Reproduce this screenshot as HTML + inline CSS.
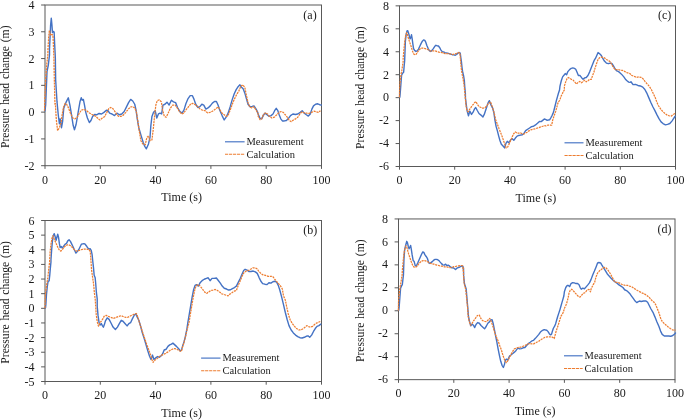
<!DOCTYPE html>
<html><head><meta charset="utf-8"><title>Pressure head change</title>
<style>
html,body{margin:0;padding:0;background:#fff;}
body{width:685px;height:420px;overflow:hidden;font-family:"Liberation Serif",serif;}
svg{display:block;will-change:transform;}
svg text{font-family:"Liberation Serif",serif;fill:#1a1a1a;}
</style></head>
<body>
<svg width="685" height="420" viewBox="0 0 685 420">
<rect x="0" y="0" width="685" height="420" fill="#ffffff"/>
<rect x="45.0" y="5.0" width="276.50" height="160.70" fill="none" stroke="#595959" stroke-width="1"/>
<line x1="41.1" y1="5.00" x2="45.0" y2="5.00" stroke="#595959" stroke-width="1"/>
<text x="34.50" y="9.00" text-anchor="end" font-size="12">4</text>
<line x1="41.1" y1="31.78" x2="45.0" y2="31.78" stroke="#595959" stroke-width="1"/>
<text x="34.50" y="35.78" text-anchor="end" font-size="12">3</text>
<line x1="41.1" y1="58.57" x2="45.0" y2="58.57" stroke="#595959" stroke-width="1"/>
<text x="34.50" y="62.57" text-anchor="end" font-size="12">2</text>
<line x1="41.1" y1="85.35" x2="45.0" y2="85.35" stroke="#595959" stroke-width="1"/>
<text x="34.50" y="89.35" text-anchor="end" font-size="12">1</text>
<line x1="41.1" y1="112.13" x2="45.0" y2="112.13" stroke="#595959" stroke-width="1"/>
<text x="34.50" y="116.13" text-anchor="end" font-size="12">0</text>
<line x1="41.1" y1="138.92" x2="45.0" y2="138.92" stroke="#595959" stroke-width="1"/>
<text x="34.50" y="142.92" text-anchor="end" font-size="12">-1</text>
<line x1="41.1" y1="165.70" x2="45.0" y2="165.70" stroke="#595959" stroke-width="1"/>
<text x="34.50" y="169.70" text-anchor="end" font-size="12">-2</text>
<line x1="45.00" y1="165.7" x2="45.00" y2="168.89999999999998" stroke="#595959" stroke-width="1"/>
<text x="45.00" y="183.70" text-anchor="middle" font-size="12">0</text>
<line x1="100.30" y1="165.7" x2="100.30" y2="168.89999999999998" stroke="#595959" stroke-width="1"/>
<text x="100.30" y="183.70" text-anchor="middle" font-size="12">20</text>
<line x1="155.60" y1="165.7" x2="155.60" y2="168.89999999999998" stroke="#595959" stroke-width="1"/>
<text x="155.60" y="183.70" text-anchor="middle" font-size="12">40</text>
<line x1="210.90" y1="165.7" x2="210.90" y2="168.89999999999998" stroke="#595959" stroke-width="1"/>
<text x="210.90" y="183.70" text-anchor="middle" font-size="12">60</text>
<line x1="266.20" y1="165.7" x2="266.20" y2="168.89999999999998" stroke="#595959" stroke-width="1"/>
<text x="266.20" y="183.70" text-anchor="middle" font-size="12">80</text>
<line x1="321.50" y1="165.7" x2="321.50" y2="168.89999999999998" stroke="#595959" stroke-width="1"/>
<text x="321.50" y="183.70" text-anchor="middle" font-size="12">100</text>
<text x="181.65" y="200.70" text-anchor="middle" font-size="12">Time (s)</text>
<text transform="translate(9.20,86.75) rotate(-90)" text-anchor="middle" font-size="11.65" word-spacing="0.9">Pressure head change (m)</text>
<text x="310.00" y="18.50" text-anchor="middle" font-size="12">(a)</text>
<polyline points="45.00,110.83 45.67,105.00 46.33,88.33 47.00,71.67 48.33,65.00 49.50,55.00 49.50,49.29 50.10,36.19 50.57,25.48 51.29,18.10 51.88,24.29 52.48,32.62 53.31,31.43 54.14,32.02 54.62,43.33 55.33,57.62 55.67,80.00 57.00,101.67 58.26,114.78 59.39,123.69 60.20,118.83 61.50,127.74 62.63,121.26 63.76,108.30 65.87,102.63 68.30,97.77 69.92,105.06 71.54,114.78 73.16,125.31 74.46,129.68 76.08,124.50 78.02,113.16 79.96,101.82 81.26,97.77 82.23,100.20 83.36,99.39 84.50,105.06 85.79,112.35 87.41,118.02 89.36,122.55 90.98,120.45 92.60,116.40 94.54,114.46 96.65,114.78 99.08,113.48 101.51,113.97 103.94,112.35 106.37,110.24 107.99,110.73 109.61,113.16 112.04,113.97 114.47,115.59 116.90,113.16 119.33,114.78 121.76,113.97 124.19,111.54 126.62,106.68 128.56,102.63 130.67,99.39 132.77,101.01 134.72,104.25 136.01,109.92 137.15,118.02 138.77,127.74 141.20,135.84 143.14,142.32 144.76,146.37 146.38,148.80 148.49,143.94 150.00,137.46 150.81,126.12 151.94,116.40 153.56,112.35 155.18,110.73 156.80,118.02 158.42,113.97 160.04,113.16 161.66,113.97 162.96,105.06 164.90,104.25 167.01,102.14 169.12,105.06 171.38,100.20 173.49,101.82 175.60,102.63 177.54,107.49 179.97,111.54 182.08,113.16 184.02,109.92 185.96,103.44 188.07,98.58 190.17,95.66 192.44,95.66 194.06,99.39 195.68,104.25 197.79,107.49 199.89,106.68 201.84,104.25 203.78,105.06 205.89,109.11 207.99,107.98 210.26,105.87 212.37,103.12 214.47,101.50 216.42,101.50 218.04,105.06 219.98,110.73 222.09,115.59 224.19,119.96 226.14,117.21 228.08,113.16 230.19,106.68 232.29,99.39 234.24,93.72 236.18,89.67 238.29,86.43 239.91,84.81 241.53,87.24 243.15,88.86 244.77,92.91 246.39,98.58 248.01,104.25 250.11,106.68 252.06,106.36 254.00,105.87 256.11,109.11 257.73,112.35 258.10,113.97 260.04,118.34 261.66,118.83 263.28,115.59 264.90,113.16 267.01,114.78 269.12,116.40 271.06,115.59 273.00,113.97 274.62,110.73 276.24,108.30 277.86,110.73 279.16,114.78 280.78,118.83 282.40,120.94 284.34,120.94 286.45,120.45 288.55,118.34 290.50,115.59 292.93,113.97 295.36,114.46 297.79,113.97 300.22,112.35 302.16,110.73 304.27,113.16 306.37,114.78 308.32,116.08 310.26,113.97 311.88,109.11 313.50,105.87 315.61,104.25 317.71,103.76 319.66,104.74 321.28,105.06" fill="none" stroke="#4472c4" stroke-width="1.4" stroke-linejoin="round" stroke-linecap="round"/>
<polyline points="44.50,110.83 45.00,96.67 45.67,80.00 46.67,65.00 47.83,55.00 47.95,49.29 48.67,37.38 49.38,30.24 50.33,33.81 51.29,35.60 52.12,34.40 52.95,35.60 53.43,45.71 53.90,57.62 54.33,80.00 55.00,105.00 55.34,103.44 56.31,119.64 57.61,130.65 59.39,127.74 61.01,122.88 62.14,114.78 63.44,107.49 65.06,103.44 66.68,104.25 68.62,108.30 70.73,113.97 72.84,118.02 75.10,118.83 77.21,117.21 79.32,113.16 81.26,110.24 83.69,109.43 86.12,110.24 88.55,112.35 90.98,113.97 93.41,115.10 95.84,116.40 98.27,118.83 99.89,119.96 102.32,118.02 104.75,116.40 106.85,112.35 108.80,108.62 110.74,107.49 112.85,108.62 114.95,111.54 116.90,114.78 118.84,116.40 120.95,116.40 123.38,115.10 125.81,112.35 128.24,109.11 130.67,107.00 132.77,106.68 134.72,107.98 136.34,111.54 137.63,119.64 139.25,130.98 140.87,140.70 142.82,143.94 145.25,144.75 146.87,137.46 148.49,135.84 150.00,140.70 151.94,139.89 153.24,129.36 154.54,116.40 155.83,105.06 157.29,100.52 159.40,99.88 161.34,101.82 162.64,109.92 164.26,116.40 166.20,117.21 168.14,113.16 170.25,108.30 172.68,105.06 175.11,105.06 177.22,107.98 179.48,111.54 181.59,113.97 183.70,113.16 185.96,109.92 188.55,106.68 190.82,103.76 192.93,103.44 195.36,104.74 197.79,106.68 200.22,109.11 202.65,110.24 205.08,110.73 207.51,112.84 209.94,112.35 212.37,111.22 214.80,109.60 216.74,107.98 218.36,107.00 219.98,109.92 222.09,113.16 224.19,114.78 226.14,116.40 228.08,115.59 230.19,109.92 232.29,104.25 234.24,99.39 236.67,94.53 238.77,91.29 240.72,86.43 242.66,84.81 244.77,87.24 246.39,95.34 248.01,102.63 249.63,106.68 251.73,107.98 253.68,106.68 256.11,109.92 258.21,113.97 258.21,116.40 260.04,119.64 261.66,118.83 263.28,114.78 265.39,112.84 267.50,113.97 269.44,116.40 271.87,118.02 274.30,117.21 276.73,114.78 279.16,112.35 281.10,111.54 283.21,112.35 285.32,114.78 287.26,117.21 289.20,120.45 291.31,121.58 293.41,119.96 295.68,118.83 297.79,117.21 299.89,113.97 301.84,111.86 304.27,112.84 306.70,113.16 309.13,113.48 311.56,112.35 313.99,111.22 316.42,111.86 318.36,112.35 320.47,110.73" fill="none" stroke="#ed7d31" stroke-width="1.25" stroke-dasharray="2.1 0.8" stroke-linejoin="round"/>
<line x1="225.0" y1="141.8" x2="244.6" y2="141.8" stroke="#4472c4" stroke-width="1.15"/>
<line x1="225.0" y1="154.3" x2="244.6" y2="154.3" stroke="#ed7d31" stroke-width="1.1" stroke-dasharray="3.2 0.8"/>
<text x="246.50" y="144.80" font-size="10.5">Measurement</text>
<text x="246.50" y="157.50" font-size="10.5">Calculation</text>
<rect x="45.0" y="220.5" width="276.50" height="161.00" fill="none" stroke="#595959" stroke-width="1"/>
<line x1="41.1" y1="220.50" x2="45.0" y2="220.50" stroke="#595959" stroke-width="1"/>
<text x="34.50" y="224.50" text-anchor="end" font-size="12">6</text>
<line x1="41.1" y1="235.14" x2="45.0" y2="235.14" stroke="#595959" stroke-width="1"/>
<text x="34.50" y="239.14" text-anchor="end" font-size="12">5</text>
<line x1="41.1" y1="249.77" x2="45.0" y2="249.77" stroke="#595959" stroke-width="1"/>
<text x="34.50" y="253.77" text-anchor="end" font-size="12">4</text>
<line x1="41.1" y1="264.41" x2="45.0" y2="264.41" stroke="#595959" stroke-width="1"/>
<text x="34.50" y="268.41" text-anchor="end" font-size="12">3</text>
<line x1="41.1" y1="279.05" x2="45.0" y2="279.05" stroke="#595959" stroke-width="1"/>
<text x="34.50" y="283.05" text-anchor="end" font-size="12">2</text>
<line x1="41.1" y1="293.68" x2="45.0" y2="293.68" stroke="#595959" stroke-width="1"/>
<text x="34.50" y="297.68" text-anchor="end" font-size="12">1</text>
<line x1="41.1" y1="308.32" x2="45.0" y2="308.32" stroke="#595959" stroke-width="1"/>
<text x="34.50" y="312.32" text-anchor="end" font-size="12">0</text>
<line x1="41.1" y1="322.95" x2="45.0" y2="322.95" stroke="#595959" stroke-width="1"/>
<text x="34.50" y="326.95" text-anchor="end" font-size="12">-1</text>
<line x1="41.1" y1="337.59" x2="45.0" y2="337.59" stroke="#595959" stroke-width="1"/>
<text x="34.50" y="341.59" text-anchor="end" font-size="12">-2</text>
<line x1="41.1" y1="352.23" x2="45.0" y2="352.23" stroke="#595959" stroke-width="1"/>
<text x="34.50" y="356.23" text-anchor="end" font-size="12">-3</text>
<line x1="41.1" y1="366.86" x2="45.0" y2="366.86" stroke="#595959" stroke-width="1"/>
<text x="34.50" y="370.86" text-anchor="end" font-size="12">-4</text>
<line x1="41.1" y1="381.50" x2="45.0" y2="381.50" stroke="#595959" stroke-width="1"/>
<text x="34.50" y="385.50" text-anchor="end" font-size="12">-5</text>
<line x1="45.00" y1="381.5" x2="45.00" y2="384.7" stroke="#595959" stroke-width="1"/>
<text x="45.00" y="398.90" text-anchor="middle" font-size="12">0</text>
<line x1="100.30" y1="381.5" x2="100.30" y2="384.7" stroke="#595959" stroke-width="1"/>
<text x="100.30" y="398.90" text-anchor="middle" font-size="12">20</text>
<line x1="155.60" y1="381.5" x2="155.60" y2="384.7" stroke="#595959" stroke-width="1"/>
<text x="155.60" y="398.90" text-anchor="middle" font-size="12">40</text>
<line x1="210.90" y1="381.5" x2="210.90" y2="384.7" stroke="#595959" stroke-width="1"/>
<text x="210.90" y="398.90" text-anchor="middle" font-size="12">60</text>
<line x1="266.20" y1="381.5" x2="266.20" y2="384.7" stroke="#595959" stroke-width="1"/>
<text x="266.20" y="398.90" text-anchor="middle" font-size="12">80</text>
<line x1="321.50" y1="381.5" x2="321.50" y2="384.7" stroke="#595959" stroke-width="1"/>
<text x="321.50" y="398.90" text-anchor="middle" font-size="12">100</text>
<text x="181.65" y="416.50" text-anchor="middle" font-size="12">Time (s)</text>
<text transform="translate(9.20,302.40) rotate(-90)" text-anchor="middle" font-size="11.65" word-spacing="0.9">Pressure head change (m)</text>
<text x="310.30" y="234.00" text-anchor="middle" font-size="12">(b)</text>
<polyline points="45.23,308.24 45.54,307.72 45.84,304.99 46.46,294.75 47.28,286.56 48.09,281.45 49.12,280.94 49.73,275.31 50.35,268.14 50.96,262.00 50.96,259.78 51.68,249.54 52.39,241.35 53.21,235.72 54.24,233.68 55.05,236.24 56.08,240.33 56.90,237.26 57.72,234.19 58.53,237.26 59.35,243.40 60.17,247.49 61.20,246.47 62.22,248.01 63.45,246.47 64.98,244.42 66.52,243.40 67.75,240.84 69.08,239.82 70.41,241.35 71.64,243.91 73.17,246.98 74.71,250.56 75.93,253.12 77.27,251.59 78.80,249.54 80.03,246.98 81.36,244.22 82.69,243.91 83.92,243.60 85.15,244.22 86.48,245.96 87.81,248.01 89.04,249.03 90.26,248.72 91.29,250.56 92.11,254.66 92.72,260.80 93.54,268.14 94.15,275.31 95.18,277.86 95.79,284.52 96.41,292.71 97.22,298.85 97.22,306.19 98.04,315.40 99.07,322.56 100.09,325.12 101.32,323.59 102.34,325.64 103.37,327.17 104.39,324.61 105.46,320.79 107.21,317.87 109.11,319.33 111.01,322.98 113.05,327.07 115.39,329.55 117.43,327.07 119.33,323.71 121.23,320.35 122.98,321.23 125.17,323.71 127.07,325.90 128.82,323.71 130.57,322.69 132.47,318.60 134.36,314.95 135.82,313.93 137.28,317.14 139.04,320.79 140.50,325.90 142.25,332.47 144.15,338.31 146.04,344.88 147.80,350.72 149.55,356.26 151.01,359.47 152.47,355.09 153.93,359.47 155.82,357.72 157.72,356.55 159.47,357.28 161.23,355.82 162.69,353.64 164.15,349.99 166.04,349.26 167.94,346.34 169.69,344.88 171.45,344.15 172.91,343.12 174.80,344.88 176.70,346.63 178.45,348.53 180.20,350.72 181.37,350.42 182.54,346.34 184.00,341.96 185.46,336.12 186.92,328.82 187.75,323.02 189.21,314.55 190.67,305.80 192.13,297.04 193.59,289.74 195.05,285.36 196.51,284.63 198.41,286.09 200.31,282.44 202.06,280.69 204.25,279.23 206.44,278.35 208.19,277.77 210.09,280.69 211.99,278.35 214.03,278.35 216.36,278.06 218.12,280.25 220.31,283.17 222.20,286.09 224.25,288.28 226.58,289.01 228.63,290.03 230.53,289.74 232.42,288.57 234.47,287.55 236.36,286.09 238.26,282.44 240.31,278.35 242.20,273.68 243.66,270.47 245.12,269.30 247.02,270.03 248.77,271.49 250.96,271.49 253.15,271.05 255.34,271.93 257.24,273.39 258.99,277.33 260.74,280.98 262.64,283.61 264.83,284.19 267.02,284.63 268.92,282.73 270.96,283.17 272.86,281.71 275.05,281.27 276.80,282.44 278.26,285.36 279.72,289.74 281.68,297.14 283.43,304.44 285.33,312.47 287.23,319.77 288.98,325.61 291.17,329.99 293.36,332.91 295.55,335.09 297.74,336.55 299.93,337.72 302.12,338.01 304.31,337.28 306.20,336.26 307.96,335.82 309.71,337.28 311.61,335.09 313.50,331.45 315.26,328.53 317.01,326.34 318.91,325.61 320.80,324.15" fill="none" stroke="#4472c4" stroke-width="1.4" stroke-linejoin="round" stroke-linecap="round"/>
<polyline points="45.02,308.24 45.13,304.99 45.33,296.80 45.84,290.66 46.87,283.49 47.89,277.35 48.61,270.19 49.63,262.00 49.63,260.80 50.14,251.59 50.96,244.42 51.98,238.28 53.01,235.72 53.72,237.26 54.44,239.82 55.46,241.86 56.79,244.94 58.33,248.52 59.56,250.36 60.89,251.08 62.22,249.75 63.65,247.70 65.29,245.96 67.03,244.94 68.56,244.73 70.10,245.45 71.64,246.68 73.17,248.52 74.71,250.05 76.24,251.08 77.78,250.77 79.31,250.36 80.85,249.75 82.69,249.34 84.43,249.03 86.17,249.03 87.81,249.34 89.24,249.75 90.26,251.59 90.67,256.71 91.08,262.85 91.59,270.19 92.62,277.35 93.64,284.52 94.36,292.71 95.18,298.85 95.69,306.19 96.20,314.38 97.22,321.54 98.45,326.15 99.78,323.08 101.32,321.03 102.85,318.98 104.00,316.41 106.19,315.39 108.38,316.41 111.01,317.43 113.49,318.31 115.97,317.43 118.60,316.41 121.23,315.68 123.71,316.85 125.90,317.43 128.09,317.14 130.28,315.97 132.47,314.95 134.66,313.93 136.41,313.49 137.87,317.14 139.33,322.25 141.23,328.09 143.12,333.93 144.88,339.04 146.63,344.15 148.53,349.26 150.42,354.36 151.88,359.47 153.05,362.39 154.80,360.20 156.85,358.74 159.18,356.85 161.23,355.39 163.56,354.36 165.61,353.34 167.94,351.88 169.99,350.42 172.32,349.26 174.36,348.53 176.26,348.96 178.16,349.99 179.91,351.01 181.37,351.45 182.54,347.07 184.00,342.69 185.46,336.85 186.92,330.28 188.92,323.02 190.09,316.01 191.55,307.26 193.01,298.50 194.47,291.20 195.93,286.09 197.68,284.63 199.43,285.36 201.33,287.55 203.23,290.03 204.98,292.36 206.73,293.39 208.63,291.93 210.82,290.47 213.01,290.03 215.20,289.45 217.39,290.47 219.58,291.93 221.77,293.82 223.96,294.41 226.15,295.28 228.04,295.87 229.80,294.12 231.99,292.66 234.18,291.20 236.36,290.47 238.26,285.36 240.31,280.69 242.20,275.87 244.10,272.51 246.15,271.05 248.48,270.47 250.53,269.30 252.86,267.84 254.91,267.84 256.80,268.57 258.70,271.05 260.74,273.39 263.08,274.85 265.56,275.43 268.04,276.31 270.67,276.31 272.86,276.60 274.76,279.23 276.80,281.71 278.70,283.90 280.60,286.09 282.35,289.01 283.43,295.68 285.33,300.06 286.79,307.36 288.25,313.93 290.15,319.77 292.19,323.42 294.53,326.34 296.57,328.53 298.91,329.99 300.95,329.99 303.28,328.53 305.33,327.07 306.79,325.61 308.69,326.63 310.58,327.07 312.63,326.34 314.53,324.58 316.42,323.12 318.47,322.25 320.80,321.23" fill="none" stroke="#ed7d31" stroke-width="1.25" stroke-dasharray="2.1 0.8" stroke-linejoin="round"/>
<line x1="201.1" y1="358.1" x2="220.5" y2="358.1" stroke="#4472c4" stroke-width="1.15"/>
<line x1="201.1" y1="370.8" x2="220.5" y2="370.8" stroke="#ed7d31" stroke-width="1.1" stroke-dasharray="3.2 0.8"/>
<text x="222.40" y="361.10" font-size="10.5">Measurement</text>
<text x="222.40" y="374.00" font-size="10.5">Calculation</text>
<rect x="399.5" y="5.85" width="276.00" height="160.65" fill="none" stroke="#595959" stroke-width="1"/>
<line x1="395.6" y1="5.85" x2="399.5" y2="5.85" stroke="#595959" stroke-width="1"/>
<text x="389.00" y="9.65" text-anchor="end" font-size="12">8</text>
<line x1="395.6" y1="28.80" x2="399.5" y2="28.80" stroke="#595959" stroke-width="1"/>
<text x="389.00" y="32.60" text-anchor="end" font-size="12">6</text>
<line x1="395.6" y1="51.75" x2="399.5" y2="51.75" stroke="#595959" stroke-width="1"/>
<text x="389.00" y="55.55" text-anchor="end" font-size="12">4</text>
<line x1="395.6" y1="74.70" x2="399.5" y2="74.70" stroke="#595959" stroke-width="1"/>
<text x="389.00" y="78.50" text-anchor="end" font-size="12">2</text>
<line x1="395.6" y1="97.65" x2="399.5" y2="97.65" stroke="#595959" stroke-width="1"/>
<text x="389.00" y="101.45" text-anchor="end" font-size="12">0</text>
<line x1="395.6" y1="120.60" x2="399.5" y2="120.60" stroke="#595959" stroke-width="1"/>
<text x="389.00" y="124.40" text-anchor="end" font-size="12">-2</text>
<line x1="395.6" y1="143.55" x2="399.5" y2="143.55" stroke="#595959" stroke-width="1"/>
<text x="389.00" y="147.35" text-anchor="end" font-size="12">-4</text>
<line x1="395.6" y1="166.50" x2="399.5" y2="166.50" stroke="#595959" stroke-width="1"/>
<text x="389.00" y="170.30" text-anchor="end" font-size="12">-6</text>
<line x1="399.50" y1="166.5" x2="399.50" y2="169.7" stroke="#595959" stroke-width="1"/>
<text x="399.50" y="184.40" text-anchor="middle" font-size="12">0</text>
<line x1="454.70" y1="166.5" x2="454.70" y2="169.7" stroke="#595959" stroke-width="1"/>
<text x="454.70" y="184.40" text-anchor="middle" font-size="12">20</text>
<line x1="509.90" y1="166.5" x2="509.90" y2="169.7" stroke="#595959" stroke-width="1"/>
<text x="509.90" y="184.40" text-anchor="middle" font-size="12">40</text>
<line x1="565.10" y1="166.5" x2="565.10" y2="169.7" stroke="#595959" stroke-width="1"/>
<text x="565.10" y="184.40" text-anchor="middle" font-size="12">60</text>
<line x1="620.30" y1="166.5" x2="620.30" y2="169.7" stroke="#595959" stroke-width="1"/>
<text x="620.30" y="184.40" text-anchor="middle" font-size="12">80</text>
<line x1="675.50" y1="166.5" x2="675.50" y2="169.7" stroke="#595959" stroke-width="1"/>
<text x="675.50" y="184.40" text-anchor="middle" font-size="12">100</text>
<text x="535.90" y="201.50" text-anchor="middle" font-size="12">Time (s)</text>
<text transform="translate(364.40,87.58) rotate(-90)" text-anchor="middle" font-size="11.65" word-spacing="0.9">Pressure head change (m)</text>
<text x="664.60" y="19.35" text-anchor="middle" font-size="12">(c)</text>
<polyline points="399.54,97.31 399.84,97.31 400.25,92.71 400.87,84.52 401.58,75.31 402.61,73.26 403.63,72.24 404.14,66.09 404.55,62.00 404.65,60.85 405.37,41.40 406.19,34.24 407.01,30.96 407.72,30.65 408.44,32.70 409.26,35.77 410.08,38.84 410.90,37.31 411.51,34.75 412.12,38.33 412.84,43.96 413.56,48.56 414.58,50.41 415.91,51.43 417.24,50.82 418.47,49.08 419.70,46.52 421.03,43.65 422.36,41.20 423.59,39.86 424.82,40.38 425.84,42.42 426.86,45.49 428.19,48.56 429.53,50.82 430.75,51.43 431.98,50.41 433.31,48.56 434.64,46.52 435.87,45.29 437.10,45.70 438.43,46.01 439.76,47.75 440.99,50.10 442.22,51.64 443.55,51.84 444.88,52.66 446.11,52.86 447.64,53.17 449.18,53.68 450.71,54.19 452.25,54.71 453.78,54.91 455.32,55.22 456.55,54.50 457.88,53.17 459.21,52.45 460.23,53.17 460.85,57.78 461.46,62.00 461.97,67.12 462.69,72.24 463.51,75.31 464.33,80.42 464.73,86.56 465.35,92.71 465.46,98.00 466.25,104.57 467.17,111.14 468.48,115.74 469.80,111.14 471.51,114.43 473.08,112.19 474.40,109.17 475.71,107.46 477.29,110.48 479.00,113.51 480.97,115.08 482.94,117.05 484.25,114.43 485.57,110.48 486.88,106.54 488.19,102.60 489.38,100.63 490.82,104.57 492.53,107.86 493.84,112.45 494.76,119.02 496.08,126.25 497.39,130.85 498.71,136.11 500.02,140.71 501.34,144.25 503.04,145.96 504.62,147.93 505.93,143.34 507.25,141.36 508.83,142.68 510.53,140.05 512.24,138.74 513.82,140.31 515.40,138.08 517.10,136.11 518.81,135.45 520.65,135.06 522.36,134.79 524.07,133.22 525.65,130.59 527.62,129.27 529.59,127.96 531.56,126.65 533.53,126.25 535.50,124.94 537.47,123.23 539.44,121.39 541.15,121.65 542.73,120.34 544.30,119.02 546.01,119.68 547.18,120.40 548.50,119.96 549.56,119.78 550.70,118.02 552.03,115.55 553.08,113.35 553.96,110.26 554.85,106.74 555.73,103.22 556.61,99.69 557.49,96.61 558.37,93.52 559.52,90.00 559.97,86.05 561.29,80.79 562.60,76.85 563.92,75.27 565.23,73.57 566.54,74.88 567.86,71.60 569.57,69.62 571.27,68.31 572.85,67.92 574.43,68.31 575.74,69.23 577.06,72.25 578.37,75.54 580.08,75.54 581.79,77.90 583.10,79.22 584.68,77.90 586.25,77.51 587.96,75.54 589.67,71.86 591.25,67.65 592.83,63.71 594.14,60.43 595.45,58.45 596.77,55.56 598.08,52.54 599.40,53.46 601.10,55.17 602.81,58.45 604.39,61.08 606.36,63.05 608.33,63.71 610.30,63.05 612.01,63.71 613.59,66.08 615.16,68.97 616.87,70.94 618.58,71.60 620.42,73.17 622.13,74.88 623.84,76.85 625.41,79.22 626.99,80.79 628.70,82.11 630.01,82.37 630.95,81.75 633.05,84.67 635.48,84.34 637.91,85.48 640.34,85.96 642.77,87.10 644.87,89.53 646.81,93.09 648.76,97.62 650.86,102.48 652.97,107.01 654.91,110.58 656.85,114.62 658.96,118.67 661.06,121.91 663.01,123.53 665.43,124.82 667.54,124.34 669.81,123.53 671.91,121.10 673.53,118.67 675.15,116.24" fill="none" stroke="#4472c4" stroke-width="1.4" stroke-linejoin="round" stroke-linecap="round"/>
<polyline points="399.33,97.31 399.43,96.80 399.64,88.61 400.25,80.42 401.07,74.28 401.89,70.19 402.61,65.07 403.12,62.00 403.12,58.80 403.94,49.59 404.76,41.40 405.68,35.26 406.70,32.70 407.42,34.24 408.24,37.82 409.26,40.89 410.28,43.96 411.31,47.03 412.33,50.61 413.56,53.68 414.89,54.91 416.22,54.19 417.45,52.15 418.98,50.10 420.52,48.56 422.05,48.05 423.59,48.05 425.12,48.56 426.66,49.08 428.19,49.79 429.73,50.61 431.27,51.12 432.80,50.82 434.34,50.82 435.87,51.12 437.41,51.64 438.94,52.15 440.48,52.45 442.01,52.66 443.55,53.17 445.08,53.68 446.62,53.68 448.15,53.68 449.69,53.89 451.22,54.19 452.76,54.50 454.29,54.19 455.83,53.68 457.37,53.17 458.90,52.66 459.92,53.17 460.44,58.80 460.64,62.00 461.25,68.14 461.97,73.26 462.99,78.38 464.02,84.52 464.73,91.68 465.35,97.82 465.35,98.00 465.86,104.57 466.78,109.83 468.09,111.80 469.80,109.17 471.51,106.54 473.08,104.57 474.66,102.60 475.97,101.68 477.29,104.31 479.00,106.54 480.97,107.46 482.94,108.25 484.65,107.86 486.22,106.54 487.80,104.31 489.51,102.60 490.69,101.94 491.74,105.23 493.06,109.17 494.37,113.77 495.68,119.68 497.39,124.28 499.10,128.88 500.68,132.82 502.25,136.76 503.57,140.71 504.88,144.65 506.20,147.93 507.51,147.28 508.83,144.65 510.53,140.71 512.24,136.76 513.82,133.48 515.40,131.90 517.10,133.22 518.81,133.22 520.39,132.82 521.97,133.74 523.67,134.14 525.38,133.22 527.22,132.17 528.93,130.85 530.90,129.80 532.87,129.27 534.84,128.88 536.81,128.22 538.79,127.57 540.76,126.91 542.73,126.25 544.30,125.60 546.01,125.86 547.62,125.24 549.38,125.24 551.59,125.24 552.20,122.60 552.73,119.96 553.61,117.31 554.67,114.23 555.73,111.15 556.61,108.06 557.49,104.54 558.37,101.89 559.52,100.57 560.40,98.37 561.28,95.73 562.42,93.52 563.48,91.32 564.36,90.00 564.36,86.05 565.62,82.11 566.94,78.82 568.25,77.51 569.96,78.43 571.54,79.48 573.11,80.14 574.82,82.11 576.53,84.08 578.11,82.37 579.68,81.45 581.39,82.76 583.10,81.45 584.68,80.14 586.25,81.84 587.96,80.79 589.67,79.22 591.25,79.48 592.56,75.54 593.88,72.25 595.19,67.65 596.50,63.71 597.82,60.03 599.40,57.80 601.10,57.14 602.81,57.40 604.39,57.80 606.36,59.51 608.33,60.43 610.30,61.74 612.01,65.02 613.59,67.65 615.16,69.62 616.87,69.62 618.58,69.62 620.42,70.28 622.13,70.28 623.84,70.94 625.41,71.86 626.99,72.65 628.70,73.17 630.01,73.57 631.43,75.28 633.86,76.25 636.29,77.38 638.72,76.90 641.15,77.38 643.25,79.00 645.19,81.75 647.14,83.86 649.24,86.29 651.35,89.53 653.29,93.57 655.23,97.62 656.85,102.16 658.47,105.72 660.58,108.96 662.68,111.38 664.95,113.49 667.05,115.11 669.16,115.76 671.10,116.24 673.04,114.62 675.15,113.49" fill="none" stroke="#ed7d31" stroke-width="1.25" stroke-dasharray="2.1 0.8" stroke-linejoin="round"/>
<line x1="564.5" y1="142.8" x2="583.5" y2="142.8" stroke="#4472c4" stroke-width="1.15"/>
<line x1="564.5" y1="155.5" x2="583.5" y2="155.5" stroke="#ed7d31" stroke-width="1.1" stroke-dasharray="3.2 0.8"/>
<text x="585.40" y="145.80" font-size="10.5">Measurement</text>
<text x="585.40" y="158.70" font-size="10.5">Calculation</text>
<rect x="398.5" y="218.95" width="276.50" height="160.70" fill="none" stroke="#595959" stroke-width="1"/>
<line x1="394.6" y1="218.95" x2="398.5" y2="218.95" stroke="#595959" stroke-width="1"/>
<text x="388.00" y="222.55" text-anchor="end" font-size="12">8</text>
<line x1="394.6" y1="241.91" x2="398.5" y2="241.91" stroke="#595959" stroke-width="1"/>
<text x="388.00" y="245.51" text-anchor="end" font-size="12">6</text>
<line x1="394.6" y1="264.86" x2="398.5" y2="264.86" stroke="#595959" stroke-width="1"/>
<text x="388.00" y="268.46" text-anchor="end" font-size="12">4</text>
<line x1="394.6" y1="287.82" x2="398.5" y2="287.82" stroke="#595959" stroke-width="1"/>
<text x="388.00" y="291.42" text-anchor="end" font-size="12">2</text>
<line x1="394.6" y1="310.78" x2="398.5" y2="310.78" stroke="#595959" stroke-width="1"/>
<text x="388.00" y="314.38" text-anchor="end" font-size="12">0</text>
<line x1="394.6" y1="333.74" x2="398.5" y2="333.74" stroke="#595959" stroke-width="1"/>
<text x="388.00" y="337.34" text-anchor="end" font-size="12">-2</text>
<line x1="394.6" y1="356.69" x2="398.5" y2="356.69" stroke="#595959" stroke-width="1"/>
<text x="388.00" y="360.29" text-anchor="end" font-size="12">-4</text>
<line x1="394.6" y1="379.65" x2="398.5" y2="379.65" stroke="#595959" stroke-width="1"/>
<text x="388.00" y="383.25" text-anchor="end" font-size="12">-6</text>
<line x1="398.50" y1="379.65" x2="398.50" y2="382.84999999999997" stroke="#595959" stroke-width="1"/>
<text x="398.50" y="397.45" text-anchor="middle" font-size="12">0</text>
<line x1="453.80" y1="379.65" x2="453.80" y2="382.84999999999997" stroke="#595959" stroke-width="1"/>
<text x="453.80" y="397.45" text-anchor="middle" font-size="12">20</text>
<line x1="509.10" y1="379.65" x2="509.10" y2="382.84999999999997" stroke="#595959" stroke-width="1"/>
<text x="509.10" y="397.45" text-anchor="middle" font-size="12">40</text>
<line x1="564.40" y1="379.65" x2="564.40" y2="382.84999999999997" stroke="#595959" stroke-width="1"/>
<text x="564.40" y="397.45" text-anchor="middle" font-size="12">60</text>
<line x1="619.70" y1="379.65" x2="619.70" y2="382.84999999999997" stroke="#595959" stroke-width="1"/>
<text x="619.70" y="397.45" text-anchor="middle" font-size="12">80</text>
<line x1="675.00" y1="379.65" x2="675.00" y2="382.84999999999997" stroke="#595959" stroke-width="1"/>
<text x="675.00" y="397.45" text-anchor="middle" font-size="12">100</text>
<text x="535.15" y="414.65" text-anchor="middle" font-size="12">Time (s)</text>
<text transform="translate(363.80,300.70) rotate(-90)" text-anchor="middle" font-size="11.65" word-spacing="0.9">Pressure head change (m)</text>
<text x="664.50" y="233.25" text-anchor="middle" font-size="12">(d)</text>
<polyline points="398.54,310.31 398.84,310.31 399.25,305.71 399.87,297.52 400.58,288.31 401.61,285.75 402.32,284.72 402.94,279.09 403.45,275.00 403.96,259.54 404.68,249.31 405.70,245.21 406.72,241.32 407.44,242.65 408.26,246.24 409.08,248.79 409.90,247.26 410.61,245.42 411.33,249.31 412.15,254.94 413.17,260.56 414.20,261.59 415.22,265.68 416.45,265.68 417.68,263.12 419.01,260.05 420.34,256.98 421.56,254.22 422.79,251.86 423.82,252.38 424.84,254.63 426.17,256.47 427.50,258.72 428.73,262.82 429.96,263.43 431.29,262.41 432.62,261.38 433.85,260.05 435.08,259.34 436.41,259.34 437.74,259.75 438.97,260.56 440.19,262.10 441.52,263.64 442.85,264.86 444.29,265.17 445.62,264.15 446.95,265.68 448.18,265.17 449.41,265.89 450.74,267.22 452.07,267.93 453.29,267.73 454.52,268.75 455.55,269.57 456.88,268.24 458.21,267.53 459.44,267.22 460.66,266.50 461.99,265.89 463.02,266.50 463.53,270.80 463.53,268.00 463.67,275.88 464.46,283.77 466.17,289.02 466.83,296.91 467.61,306.11 468.40,315.31 468.40,316.00 469.45,321.26 470.77,325.86 472.08,324.15 473.40,325.20 474.71,327.56 476.02,324.54 477.60,322.57 479.31,323.23 481.02,325.46 482.86,327.17 484.57,328.88 486.27,326.25 487.85,323.23 489.43,321.91 490.74,319.94 492.06,319.68 493.11,323.23 494.16,328.48 495.47,335.05 496.79,341.62 498.10,348.85 499.42,355.42 500.73,361.34 502.04,365.28 503.36,367.51 504.41,364.62 505.46,360.02 506.51,359.10 507.83,360.02 509.53,356.08 511.24,354.76 512.82,353.45 514.40,352.14 516.10,350.43 517.81,348.19 519.65,348.85 521.36,348.59 523.07,347.80 524.91,347.54 526.62,345.57 528.32,343.60 530.16,342.28 531.87,340.97 533.58,340.31 535.42,338.34 537.13,336.37 538.84,334.40 540.41,332.03 541.99,330.72 543.70,329.80 545.01,329.80 546.75,330.29 548.08,331.62 549.31,333.67 550.53,334.89 551.56,334.08 552.38,331.31 553.40,328.24 554.63,326.19 555.65,323.64 556.68,320.05 557.70,316.47 558.72,313.40 559.75,310.33 560.77,306.75 561.79,303.16 562.82,299.58 563.84,296.00 564.45,291.45 565.77,287.51 567.08,285.54 568.40,285.54 569.71,286.59 571.02,283.57 572.60,282.65 574.31,282.91 576.02,283.57 577.60,283.57 578.91,284.49 580.22,287.51 581.27,289.22 582.85,288.17 584.43,288.82 586.14,286.85 587.84,284.88 589.42,282.91 591.00,279.62 592.71,275.02 594.42,271.08 595.99,267.14 597.57,262.94 598.88,262.54 600.59,262.94 601.91,265.17 603.61,267.80 605.19,270.43 607.16,273.71 609.13,276.08 611.10,278.31 613.07,280.28 615.05,281.86 617.02,283.17 618.99,284.88 620.96,286.19 622.93,287.51 624.64,289.74 626.48,290.53 628.19,292.11 630.16,294.08 631.73,296.31 633.44,298.68 635.15,301.04 636.73,302.62 638.30,301.57 640.01,301.04 641.15,301.48 643.58,300.99 646.00,300.99 647.62,302.29 649.24,305.53 650.86,308.76 652.97,312.33 654.91,316.86 656.85,321.72 658.96,326.58 660.58,331.11 662.20,334.35 664.30,335.97 666.57,335.97 668.67,335.97 670.78,336.29 672.72,335.48 674.34,334.35 675.47,333.05" fill="none" stroke="#4472c4" stroke-width="1.4" stroke-linejoin="round" stroke-linecap="round"/>
<polyline points="398.23,310.31 398.33,310.31 398.54,301.61 399.25,293.42 400.07,287.28 400.89,282.68 401.61,278.07 402.12,275.00 402.32,270.80 403.14,261.59 403.96,253.40 404.98,248.28 406.01,245.72 406.83,247.26 407.64,250.33 408.46,253.40 409.49,256.47 410.51,259.54 411.53,262.61 412.86,265.68 414.20,267.22 415.63,267.22 416.96,266.19 418.49,264.15 420.03,262.41 421.56,261.08 423.10,260.56 424.64,260.56 426.17,261.08 427.71,261.79 429.24,262.82 430.78,263.43 432.31,263.84 433.85,264.15 435.38,264.66 436.92,265.17 438.45,265.48 439.99,265.89 441.52,266.19 443.06,266.50 444.59,266.91 446.13,266.91 447.67,267.22 449.20,267.53 450.74,267.53 452.27,267.22 453.81,266.71 455.34,266.50 456.88,266.19 458.41,265.89 459.95,265.68 461.48,265.68 462.71,265.89 463.33,270.80 463.33,268.00 463.54,275.88 464.20,283.77 465.78,289.68 466.56,297.57 467.48,306.11 468.14,315.31 468.14,316.00 469.19,321.26 470.51,325.20 471.82,323.88 473.13,321.52 474.71,319.29 476.29,317.05 477.34,315.57 479.31,315.04 480.62,317.93 481.02,318.63 482.60,320.60 484.57,321.26 486.54,321.52 488.11,319.94 489.69,318.37 490.74,320.60 492.06,323.88 493.37,327.83 494.68,332.43 496.39,337.02 498.10,340.97 499.68,345.57 501.25,349.51 502.57,354.11 503.88,358.05 505.20,361.34 506.51,362.65 507.83,360.68 509.53,357.39 511.24,354.11 512.82,351.22 514.40,348.85 516.10,348.19 517.81,347.54 519.65,347.27 521.36,346.88 523.07,346.22 524.91,345.57 526.62,344.65 528.32,343.86 530.16,343.60 531.87,343.86 533.58,343.86 535.42,342.94 537.13,342.02 538.84,341.23 540.41,339.92 541.99,339.00 543.70,338.08 545.01,337.29 547.26,336.94 549.31,336.94 551.35,336.74 552.89,337.45 554.22,338.48 555.04,335.41 555.96,331.82 556.98,328.75 558.01,325.68 559.03,322.41 560.05,319.03 561.08,315.96 562.41,314.22 563.43,311.86 564.45,308.28 565.68,305.72 566.71,303.16 567.53,300.09 568.34,297.02 569.05,292.76 570.37,290.14 571.68,289.22 573.39,290.79 574.97,292.76 576.54,294.47 578.25,296.31 579.96,297.10 581.54,295.39 583.11,293.42 584.82,292.76 586.53,290.79 588.11,289.48 589.42,289.74 590.47,291.84 591.26,288.43 593.10,284.88 594.68,282.25 595.99,277.00 597.57,273.05 599.28,271.08 600.99,269.77 602.56,268.45 604.14,267.40 605.85,267.80 607.56,269.51 609.13,271.74 610.71,274.37 612.42,277.65 614.13,280.94 615.70,282.25 617.67,282.25 619.65,283.17 621.62,284.22 623.59,284.88 625.56,285.54 627.53,285.27 629.50,286.19 631.47,286.59 633.44,287.90 635.41,289.22 637.39,290.53 640.01,291.84 641.96,292.90 644.38,293.87 646.81,295.49 649.24,297.43 651.67,300.34 654.10,302.29 655.72,304.72 657.34,308.76 658.96,312.81 660.58,318.16 662.20,321.39 664.30,323.66 666.24,325.28 668.19,326.90 670.29,328.52 672.40,329.81 674.34,330.14 675.47,329.81" fill="none" stroke="#ed7d31" stroke-width="1.25" stroke-dasharray="2.1 0.8" stroke-linejoin="round"/>
<line x1="564.0" y1="355.8" x2="582.7" y2="355.8" stroke="#4472c4" stroke-width="1.15"/>
<line x1="564.0" y1="368.5" x2="582.7" y2="368.5" stroke="#ed7d31" stroke-width="1.1" stroke-dasharray="3.2 0.8"/>
<text x="584.60" y="358.80" font-size="10.5">Measurement</text>
<text x="584.60" y="371.70" font-size="10.5">Calculation</text>
</svg>
</body></html>
